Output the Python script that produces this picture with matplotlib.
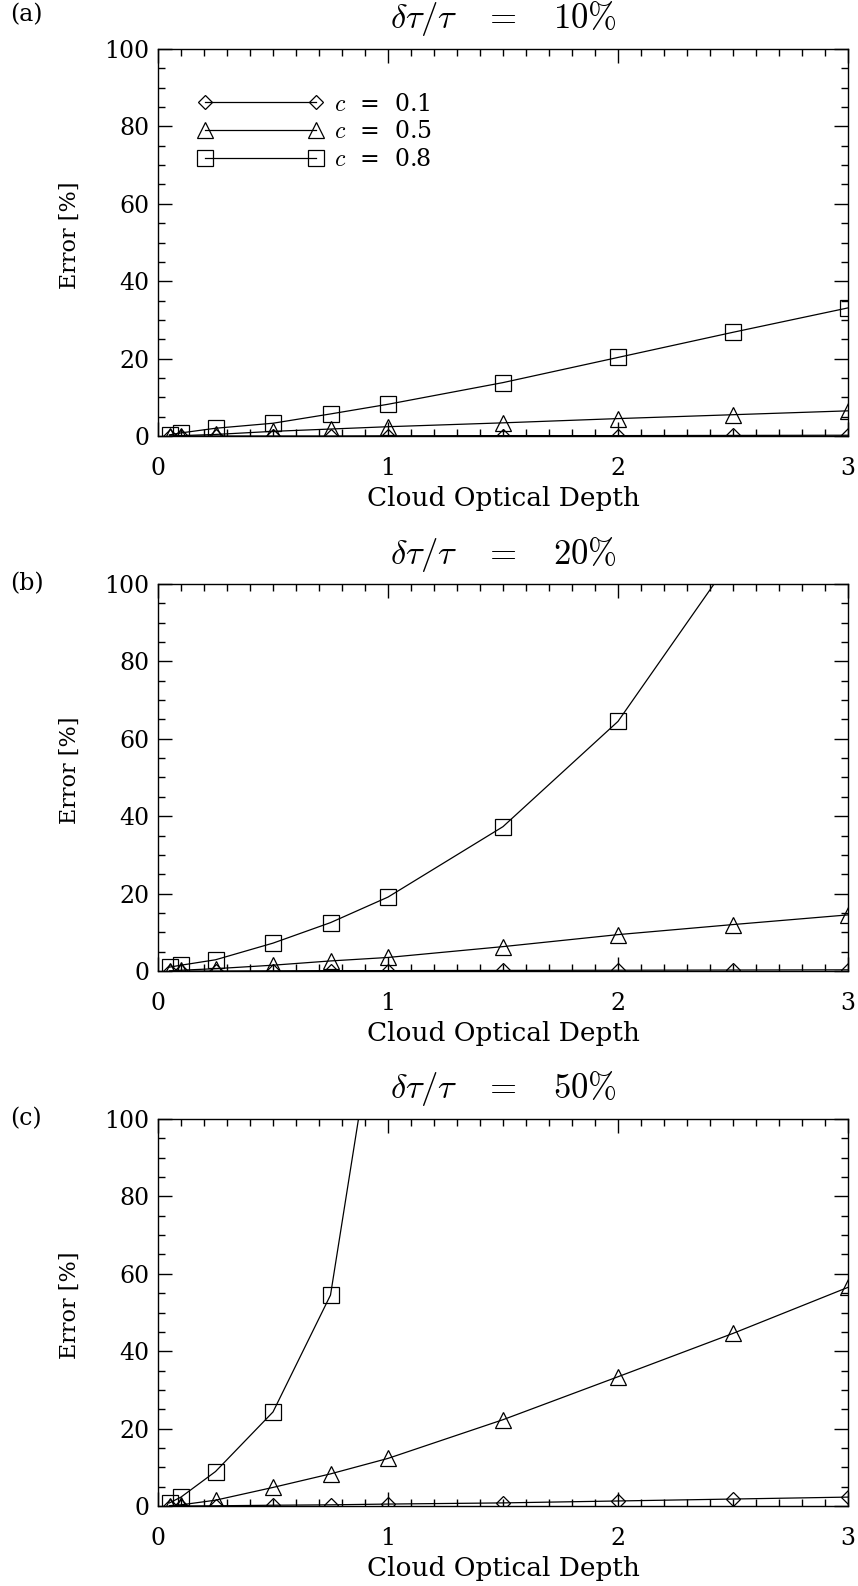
import numpy as np
import matplotlib
matplotlib.use("Agg")
import matplotlib.pyplot as plt

plt.rcParams['font.family'] = ['DejaVu Serif']
plt.rcParams['mathtext.fontset'] = 'cm'

# cloud optical depth sampled
tau = [0.05, 0.1, 0.25, 0.5, 0.75, 1.0, 1.5, 2.0, 2.5, 3.0]

# error [%] for c = 0.1, 0.5, 0.8 ; nan = off the chart, not readable
err_a_01 = [0.0, 0.0, 0.0, 0.0, 0.0, 0.05, 0.1, 0.1, 0.15, 0.2]
err_a_05 = [0.0, 0.1, 0.4, 1.2, 1.8, 2.4, 3.4, 4.5, 5.5, 6.5]
err_a_08 = [0.3, 0.8, 2.0, 3.3, 5.7, 8.2, 13.8, 20.3, 26.8, 33.1]

err_b_01 = [0.0, 0.0, 0.0, 0.05, 0.1, 0.1, 0.15, 0.2, 0.25, 0.3]
err_b_05 = [0.0, 0.2, 0.6, 1.5, 2.6, 3.5, 6.3, 9.4, 12.0, 14.5]
err_b_08 = [1.0, 1.5, 2.9, 7.2, 12.5, 19.1, 37.3, 64.5, 107.0, np.nan]

err_c_01 = [0.0, 0.0, 0.05, 0.2, 0.3, 0.5, 0.8, 1.3, 1.8, 2.3]
err_c_05 = [0.1, 0.3, 1.5, 4.8, 8.3, 12.3, 22.3, 33.4, 44.6, 56.5]
err_c_08 = [0.8, 2.3, 8.9, 24.3, 54.5, 148.0, np.nan, np.nan, np.nan, np.nan]

titles = [r'$\delta\tau/\tau\quad=\quad10\%$', r'$\delta\tau/\tau\quad=\quad20\%$',
          r'$\delta\tau/\tau\quad=\quad50\%$']
panel_tags = ['(a)', '(b)', '(c)']
legend_labels = [r'$c$  =  0.1', r'$c$  =  0.5', r'$c$  =  0.8']

panels = [(err_a_01, err_a_05, err_a_08),
          (err_b_01, err_b_05, err_b_08),
          (err_c_01, err_c_05, err_c_08)]

W, H = 858, 1586
fig = plt.figure(figsize=(W / 100, H / 100), dpi=100)

ax_left, ax_right = 158, 848
ax_tops = [49, 584, 1119]
ax_h = 387
tag_y = [15, 584, 1119]

markers = [('D', 7.6), ('^', 11.5), ('s', 11.5)]

for i, (series, title) in enumerate(zip(panels, titles)):
    top = ax_tops[i]
    ax = fig.add_axes([ax_left / W, 1 - (top + ax_h) / H,
                       (ax_right - ax_left) / W, ax_h / H])
    for ys, (m, ms), lab in zip(series, markers, legend_labels):
        ax.plot(tau, ys, color='black', lw=0.9, marker=m, ms=ms,
                mfc='none', mec='black', mew=0.9, label=lab)
    ax.set_xlim(0, 3)
    ax.set_ylim(0, 100)
    ax.set_xticks([0, 1, 2, 3])
    ax.set_xticks(np.arange(0, 3.01, 0.1), minor=True)
    ax.set_yticks(np.arange(0, 101, 20))
    ax.set_yticks(np.arange(0, 101, 5), minor=True)
    ax.tick_params(which='both', direction='in', top=True, right=True, width=1.0)
    ax.tick_params(which='major', length=10)
    ax.tick_params(which='minor', length=5)
    ax.tick_params(axis='x', labelsize=17, pad=15)
    ax.tick_params(axis='y', labelsize=17, pad=6)
    for s in ax.spines.values():
        s.set_linewidth(1.0)
    ax.set_xlabel('Cloud Optical Depth', fontsize=19)
    ax.xaxis.set_label_coords(0.5, -0.128)
    ax.set_ylabel('Error [%]', fontsize=16)
    ax.yaxis.set_label_coords(-0.112, 0.52)
    ax.text(0.5, 1 + 30 / ax_h, title, transform=ax.transAxes,
            ha='center', va='center', fontsize=25)
    fig.text(10 / W, 1 - tag_y[i] / H, panel_tags[i], ha='left', va='center',
             fontsize=17)
    if i == 0:
        ax.legend(loc='upper left', bbox_to_anchor=(0.044, 0.912), frameon=False,
                  numpoints=2, handlelength=5.3, handletextpad=0.45,
                  labelspacing=0.2, fontsize=17, borderaxespad=0)

fig.savefig('out.png', dpi=100)
